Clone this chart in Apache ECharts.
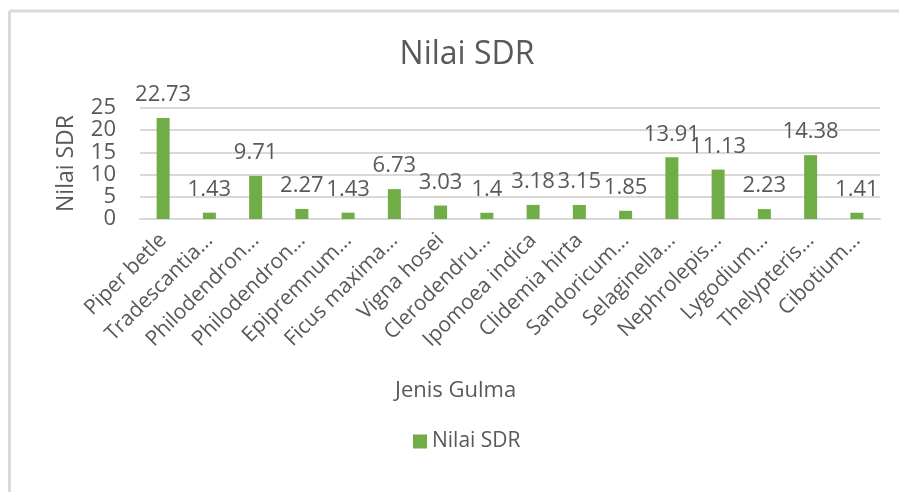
<!DOCTYPE html>
<html>
<head>
<meta charset="utf-8">
<script src="https://cdn.jsdelivr.net/npm/echarts@6/dist/echarts.min.js"></script>
<style>
html,body{margin:0;padding:0;background:#fff;}
#c{width:899px;height:492px;}
</style>
</head>
<body>
<div id="c"></div>
<script>
const categories = ["Piper betle","Tradescantia...","Philodendron...","Philodendron...","Epipremnum...","Ficus maxima...","Vigna hosei","Clerodendru...","Ipomoea indica","Clidemia hirta","Sandoricum...","Selaginella...","Nephrolepis...","Lygodium...","Thelypteris...","Cibotium..."];
const sdrValues = [22.73,1.43,9.71,2.27,1.43,6.73,3.03,1.4,3.18,3.15,1.85,13.91,11.13,2.23,14.38,1.41];
const yTicks = [0,5,10,15,20,25];

const FONT = "Open Sans";
const TXT = "#595959";
const chart = echarts.init(document.getElementById('c'));
chart.setOption({
  animation: false,
  backgroundColor: '#fff',
  graphic: [
    {type:'line', shape:{x1:9.5,y1:11,x2:899,y2:11}, style:{stroke:'#d9d9d9', lineWidth:3}},
    {type:'line', shape:{x1:9.5,y1:11,x2:9.5,y2:492}, style:{stroke:'#d9d9d9', lineWidth:3}},
    {type:'text', left: 395, top: 380, style:{text:'Jenis Gulma', fontFamily: FONT, fontSize: 22, fill: TXT}}
  ],
  title: {
    text: 'Nilai SDR', left: 462, top: 34, textAlign: 'center',
    textStyle: {fontFamily: FONT, fontWeight: 'normal', fontSize: 32, color: TXT}
  },
  legend: {
    data: ['Nilai SDR'], left: 408, top: 426,
    icon: 'rect', itemWidth: 14, itemHeight: 14, itemGap: 6,
    textStyle: {fontFamily: FONT, fontSize: 21, color: TXT}
  },
  grid: {left: 140, right: 19, top: 108, bottom: 273, containLabel: false},
  xAxis: {
    type: 'category', data: categories,
    axisLine: {lineStyle: {color: '#d9d9d9', width: 2}},
    axisTick: {show: false},
    axisLabel: {rotate: 45, interval: 0, margin: 18, fontFamily: FONT, fontSize: 21, color: TXT}
  },
  yAxis: {
    type: 'value', min: yTicks[0], max: yTicks[yTicks.length-1], interval: 5,
    name: 'Nilai SDR', nameLocation: 'middle', nameGap: 62, nameRotate: 90,
    nameTextStyle: {fontFamily: FONT, fontSize: 23, color: TXT},
    axisLine: {show: false}, axisTick: {show: false},
    axisLabel: {margin: 24, fontFamily: FONT, fontSize: 22, color: TXT},
    splitLine: {lineStyle: {color: '#d9d9d9', width: 2}}
  },
  series: [{
    name: 'Nilai SDR', type: 'bar', data: sdrValues, barWidth: 13,
    itemStyle: {color: '#70ad47'},
    label: {show: true, position: 'top', distance: 12, fontFamily: FONT, fontSize: 22, color: TXT}
  }]
});
</script>
</body>
</html>
